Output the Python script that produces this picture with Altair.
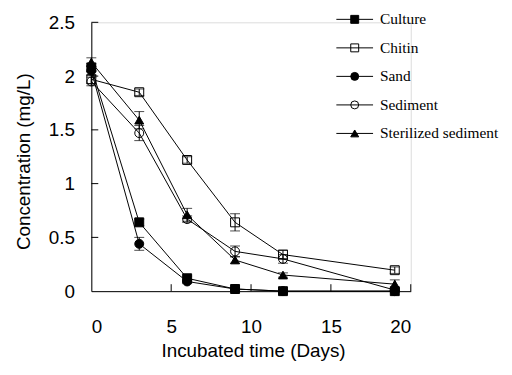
import altair as alt
import pandas as pd

days = [0, 3, 6, 9, 12, 19]
series_names = ["Culture", "Chitin", "Sand", "Sediment", "Sterilized sediment"]
culture = [2.08, 0.64, 0.12, 0.02, 0.0, 0.0]
culture_err = [0.04, 0.03, 0.02, 0.01, 0.0, 0.0]
chitin = [1.97, 1.85, 1.22, 0.64, 0.34, 0.195]
chitin_err = [0.04, 0.03, 0.03, 0.08, 0.04, 0.03]
sand = [2.05, 0.44, 0.09, 0.02, 0.0, 0.0]
sand_err = [0.04, 0.06, 0.02, 0.01, 0.0, 0.0]
sediment = [1.95, 1.47, 0.67, 0.37, 0.30, 0.01]
sediment_err = [0.04, 0.07, 0.03, 0.05, 0.04, 0.01]
sterilized = [2.13, 1.59, 0.71, 0.29, 0.15, 0.065]
sterilized_err = [0.04, 0.08, 0.06, 0.03, 0.02, 0.04]
x_ticks = [5, 10, 15, 20]
y_ticks = [0.5, 1.0, 1.5, 2.0, 2.5]

values = [culture, chitin, sand, sediment, sterilized]
errors = [culture_err, chitin_err, sand_err, sediment_err, sterilized_err]
rows = []
for name, vals, errs in zip(series_names, values, errors):
    for d, v, e in zip(days, vals, errs):
        rows.append({"series": name, "day": d, "value": v, "lo": v - e, "hi": v + e})
df = pd.DataFrame(rows)
legend_df = pd.DataFrame({"series": series_names})

W, H = 322, 271
FONT = "Liberation Sans"

xs = alt.Scale(domain=[0, 20], nice=False)
ys = alt.Scale(domain=[0, 2.5], nice=False)

base = alt.Chart(df)
x_enc = alt.X("day:Q", scale=xs,
              axis=alt.Axis(title="Incubated time (Days)", values=[0, 5, 10, 15, 20],
                            ticks=False, grid=False, labelPadding=27, titlePadding=5,
                            titleX=163,
                            domainColor="black", labelColor="black", titleColor="black",
                            labelFont=FONT, titleFont=FONT, labelFontSize=19, titleFontSize=19,
                            titleFontWeight="normal"))
y_enc = alt.Y("value:Q", scale=ys,
              axis=alt.Axis(title="Concentration (mg/L)", values=[0, 0.5, 1, 1.5, 2, 2.5],
                            format="~g", ticks=False, grid=False, labelPadding=17, titlePadding=15,
                            titleY=140,
                            domainColor="black", labelColor="black", titleColor="black",
                            labelFont=FONT, titleFont=FONT, labelFontSize=19, titleFontSize=19,
                            titleFontWeight="normal"))

lines = base.mark_line(color="black", strokeWidth=1).encode(x=x_enc, y=y_enc, detail="series:N")

err_rules = base.mark_rule(color="black", strokeWidth=1).encode(
    x=alt.X("day:Q", scale=xs), y=alt.Y("lo:Q", scale=ys), y2="hi:Q")
cap_lo = base.mark_tick(color="black", thickness=1, size=10, orient="horizontal").encode(
    x=alt.X("day:Q", scale=xs), y=alt.Y("lo:Q", scale=ys))
cap_hi = base.mark_tick(color="black", thickness=1, size=10, orient="horizontal").encode(
    x=alt.X("day:Q", scale=xs), y=alt.Y("hi:Q", scale=ys))

def markers(name, shape, filled):
    return base.transform_filter(alt.datum.series == name).mark_point(
        shape=shape, size=81, strokeWidth=1, stroke="black",
        fill="black" if filled else "transparent", opacity=1
    ).encode(x=alt.X("day:Q", scale=xs), y=alt.Y("value:Q", scale=ys))

m_culture = markers("Culture", "square", True)
m_chitin = markers("Chitin", "square", False)
m_sand = markers("Sand", "circle", True)
m_sed = markers("Sediment", "circle", False)
m_ster = markers("Sterilized sediment", "triangle-up", True)

xtick_df = pd.DataFrame({"t": x_ticks})
ytick_df = pd.DataFrame({"t": y_ticks})
xticks = alt.Chart(xtick_df).mark_rule(color="black", strokeWidth=1).encode(
    x=alt.X("t:Q", scale=xs), y=alt.value(H), y2=alt.value(H - 7))
yticks = alt.Chart(ytick_df).mark_rule(color="black", strokeWidth=1).encode(
    y=alt.Y("t:Q", scale=ys), x=alt.value(0), x2=alt.value(7))

main = alt.layer(lines, err_rules, cap_lo, cap_hi, m_culture, m_chitin, m_sand, m_sed, m_ster,
                 xticks, yticks)

# legend (upper right)
ly = alt.Y("series:N", scale=alt.Scale(type="point", domain=series_names, range=[-3, 112], padding=0),
           axis=None)
lbase = alt.Chart(legend_df)
leg_lines = lbase.mark_rule(color="black", strokeWidth=1).encode(
    y=ly, x=alt.value(247), x2=alt.value(284))
leg_marks = lbase.mark_point(size=64, strokeWidth=1, stroke="black", opacity=1).encode(
    y=ly, x=alt.value(265.5),
    shape=alt.Shape("series:N", scale=alt.Scale(domain=series_names,
                    range=["square", "square", "circle", "circle", "triangle-up"]), legend=None),
    fill=alt.Fill("series:N", scale=alt.Scale(domain=series_names,
                  range=["black", "transparent", "black", "transparent", "black"]), legend=None))
leg_text = lbase.mark_text(align="left", baseline="middle", font="Liberation Serif",
                           fontSize=15.5, color="black").encode(
    y=ly, x=alt.value(291), text="series:N")
legend = alt.layer(leg_lines, leg_marks, leg_text)

chart = alt.layer(main, legend).resolve_scale(y="independent").properties(
    width=W, height=H,
    autosize=alt.AutoSizeParams(type="none"),
    padding={"left": 84, "top": 13, "right": 94, "bottom": 73}
).configure_view(stroke=None).configure(background="white")

chart.save("out.html", embed_options={"renderer": "svg", "actions": False})
